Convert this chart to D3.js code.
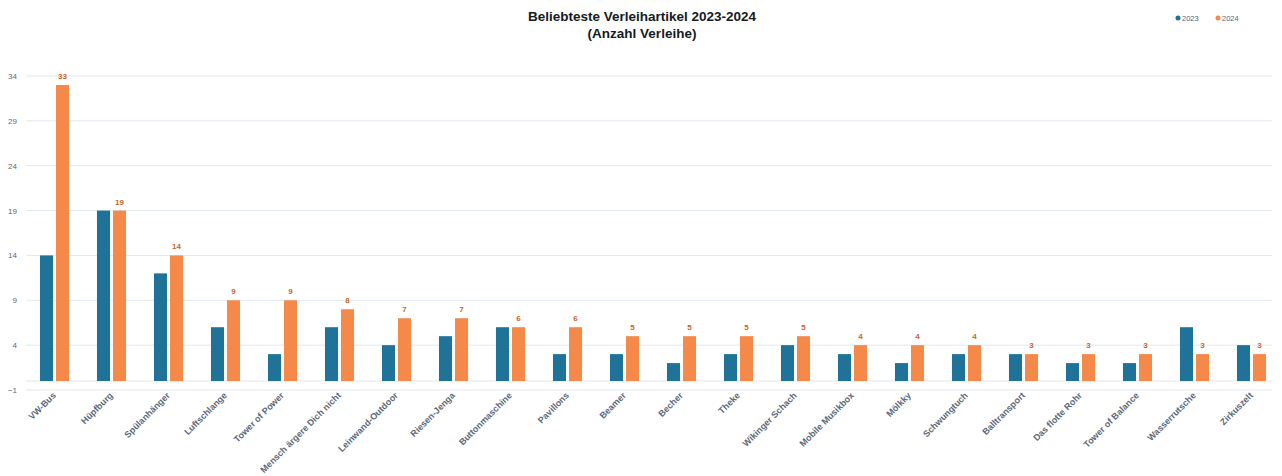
<!DOCTYPE html>
<html>
<head>
<meta charset="utf-8">
<script src="https://cdn.jsdelivr.net/npm/d3@7"></script>
<style>
  body { margin: 0; background: #fff; }
  text { font-family: "Liberation Sans", Arial, sans-serif; }
</style>
</head>
<body>
<svg id="chart" width="1282" height="476"></svg>
<script>
// data
const categories = ["VW-Bus", "Hüpfburg", "Spülanhänger", "Luftschlange", "Tower of Power",
    "Mensch ärgere Dich nicht", "Leinwand-Outdoor", "Riesen-Jenga", "Buttonmaschine", "Pavillons",
    "Beamer", "Becher", "Theke", "Wikinger Schach", "Mobile Musikbox", "Mölkky", "Schwungtuch",
    "Balltransport", "Das flotte Rohr", "Tower of Balance", "Wasserrutsche", "Zirkuszelt"];
const seriesNames = ["2023", "2024"];
const values2023 = [14, 19, 12, 6, 3, 6, 4, 5, 6, 3, 3, 2, 3, 4, 3, 2, 3, 3, 2, 2, 6, 4];
const values2024 = [33, 19, 14, 9, 9, 8, 7, 7, 6, 6, 5, 5, 5, 5, 4, 4, 4, 3, 3, 3, 3, 3];
const yTicks = [-1, 4, 9, 14, 19, 24, 29, 34];

const colors = { "2023": "#1f7399", "2024": "#f4894a" };

var svg = d3.select("#chart");

// plot area
const plotLeft = 26, plotRight = 1280, plotTop = 76, plotBottom = 390;

const x0 = d3.scaleBand()
    .domain(categories)
    .range([plotLeft, plotRight])
    .paddingInner(0.49)
    .paddingOuter(0.245);

const x1 = d3.scaleBand()
    .domain(seriesNames)
    .range([0, x0.bandwidth()])
    .paddingInner(0.1875);

const y = d3.scaleLinear()
    .domain([-1, 34])
    .range([plotBottom, plotTop]);

// gridlines
svg.append("g")
    .selectAll("line")
    .data(yTicks.concat([0]))
    .join("line")
    .attr("x1", plotLeft)
    .attr("x2", plotRight - 8)
    .attr("y1", d => y(d))
    .attr("y2", d => y(d))
    .style("stroke", "#dfe8f0")
    .style("stroke-width", 1);

// y axis labels
const yAxis = d3.axisLeft(y).tickValues(yTicks).tickSize(0).tickPadding(8);
svg.append("g")
    .attr("transform", "translate(" + (plotLeft - 1) + ",0)")
    .call(yAxis)
    .call(g => g.select(".domain").remove())
    .selectAll("text")
    .style("font-size", "8px")
    .style("fill", "#5a6878");

// bars
const rows = categories.map((c, i) => ({ cat: c, "2023": values2023[i], "2024": values2024[i] }));

const groups = svg.append("g")
    .selectAll("g")
    .data(rows)
    .join("g")
    .attr("transform", d => "translate(" + x0(d.cat) + ",0)");

groups.selectAll("rect")
    .data(d => seriesNames.map(s => ({ s: s, v: d[s] })))
    .join("rect")
    .attr("x", d => x1(d.s))
    .attr("width", x1.bandwidth())
    .attr("y", d => y(d.v))
    .attr("height", d => y(0) - y(d.v))
    .style("fill", d => colors[d.s]);

// value labels on 2024 bars
groups.append("text")
    .attr("x", x1("2024") + x1.bandwidth() / 2)
    .attr("y", d => y(d["2024"]) - 6)
    .attr("text-anchor", "middle")
    .style("font-size", "8px")
    .style("font-weight", "bold")
    .style("fill", "#c8642e")
    .text(d => d["2024"]);

// x axis labels, rotated
svg.append("g")
    .selectAll("text")
    .data(categories)
    .join("text")
    .attr("transform", d => "translate(" + (x0(d) + x0.bandwidth() / 2 + 2) + "," + (plotBottom + 6) + ")rotate(-45)")
    .attr("text-anchor", "end")
    .style("font-size", "9px")
    .style("font-weight", "bold")
    .style("fill", "#5a6878")
    .text(d => d);

// title
svg.append("text")
    .attr("x", 642)
    .attr("y", 21)
    .attr("text-anchor", "middle")
    .style("font-size", "13.5px")
    .style("font-weight", "bold")
    .style("fill", "#151a24")
    .text("Beliebteste Verleihartikel 2023-2024");
svg.append("text")
    .attr("x", 642)
    .attr("y", 38)
    .attr("text-anchor", "middle")
    .style("font-size", "13.5px")
    .style("font-weight", "bold")
    .style("fill", "#151a24")
    .text("(Anzahl Verleihe)");

// legend
const legend = svg.append("g")
    .selectAll("g")
    .data(seriesNames)
    .join("g")
    .attr("transform", (d, i) => "translate(" + (1178 + i * 40) + ",18)");
legend.append("circle")
    .attr("r", 2.5)
    .style("fill", d => colors[d]);
legend.append("text")
    .attr("x", 4)
    .attr("y", 2.5)
    .style("font-size", "7.5px")
    .style("fill", "#4d6680")
    .text(d => d);
</script>
</body>
</html>
